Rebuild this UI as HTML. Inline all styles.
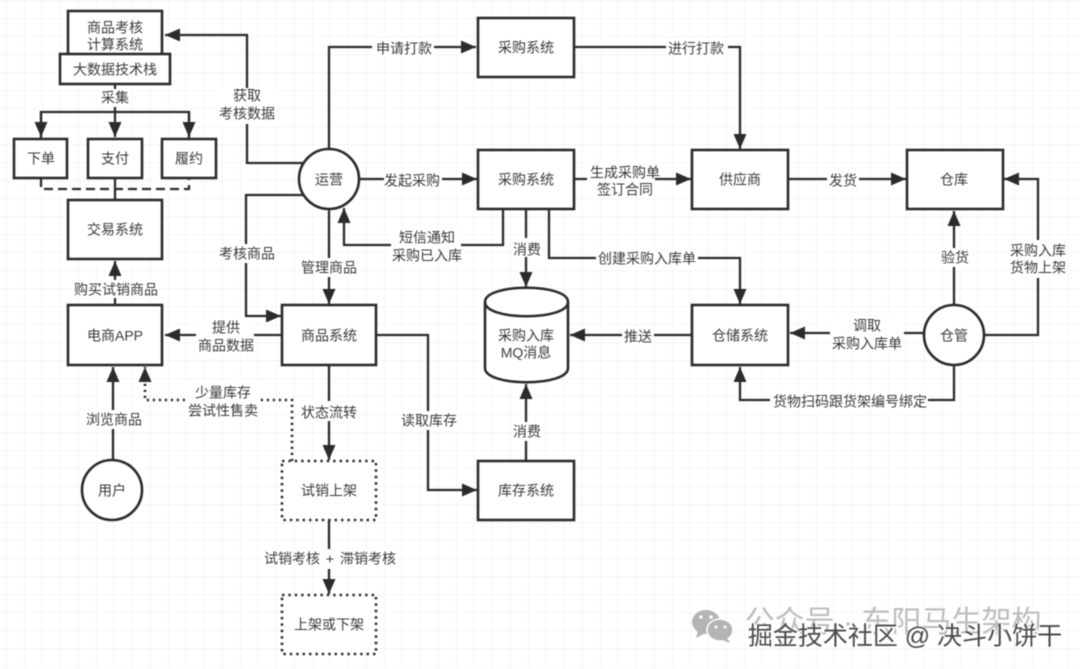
<!DOCTYPE html>
<html><head><meta charset="utf-8">
<style>
html,body{margin:0;padding:0;background:#fff;width:1080px;height:669px;overflow:hidden}
svg{display:block;filter:blur(.5px)}
text{font-family:"Liberation Sans","Noto Sans CJK SC",sans-serif;font-size:14px;fill:#3a3a3a;text-anchor:middle;dominant-baseline:central;transform:translateY(.7px)}
.b{fill:#fff;stroke:#2b2b2b;stroke-width:2.6}
.d{fill:#fff;stroke:#2b2b2b;stroke-width:2.6;stroke-dasharray:2.4 4}
.l{fill:none;stroke:#2b2b2b;stroke-width:2.3}
.a{fill:#2b2b2b}
.w{fill:#fff}
</style></head><body>
<svg width="1080" height="669" viewBox="0 0 1080 669" xmlns="http://www.w3.org/2000/svg">
<defs>
<pattern id="g" width="18" height="18" patternUnits="userSpaceOnUse" x="6" y="0.5"><path d="M18 0H0V18" fill="none" stroke="#eeeeee" stroke-width="1"/></pattern>
<pattern id="G" width="72" height="72" patternUnits="userSpaceOnUse" x="6" y="0.5"><path d="M72 0H0V72" fill="none" stroke="#e6e6e6" stroke-width="1"/></pattern>
<marker id="m" markerUnits="userSpaceOnUse" markerWidth="16" markerHeight="14" refX="15" refY="6.5" orient="auto"><path d="M0 0L15 6.5L0 13Z" class="a"/></marker>
</defs>
<rect width="1080" height="669" fill="#fff"/>
<rect width="1080" height="669" fill="url(#g)"/>
<rect width="1080" height="669" fill="url(#G)"/>

<!-- connectors -->
<g class="l">
<path class="l" d="M304 163H247V35H165" marker-end="url(#m)"/>
<path class="l" d="M329 150V47H476" marker-end="url(#m)"/>
<path class="l" d="M574 47H740V149" marker-end="url(#m)"/>
<path class="l" d="M359 179H477" marker-end="url(#m)"/>
<path class="l" d="M574 179H691" marker-end="url(#m)"/>
<path class="l" d="M788 179H906" marker-end="url(#m)"/>
<path class="l" d="M503 209V245H344V208" marker-end="url(#m)"/>
<path class="l" d="M526 209V287" marker-end="url(#m)"/>
<path class="l" d="M549 209V258H740V304" marker-end="url(#m)"/>
<path class="l" d="M692 335H570" marker-end="url(#m)"/>
<path class="l" d="M925 333H790" marker-end="url(#m)"/>
<path class="l" d="M954 305V211" marker-end="url(#m)"/>
<path class="l" d="M984 335H1038V179H1004" marker-end="url(#m)"/>
<path class="l" d="M954 365V400H740V367" marker-end="url(#m)"/>
<path class="l" d="M526 461V384" marker-end="url(#m)"/>
<path class="l" d="M376 335H428V490H477" marker-end="url(#m)"/>
<path class="l" d="M282 335H165" marker-end="url(#m)"/>
<path class="l" d="M304 195H246V316H281" marker-end="url(#m)"/>
<path class="l" d="M329 209V304" marker-end="url(#m)"/>
<path class="l" d="M329 365V460" marker-end="url(#m)"/>
<path class="l" d="M329 520V594" marker-end="url(#m)"/>
<path class="l" d="M113 461V367" marker-end="url(#m)"/>
<path class="l" d="M115 305V261" marker-end="url(#m)"/>
<path class="l" d="M292 461V400H145V367" stroke-dasharray="2.2 3.8" style="stroke-width:2.6" marker-end="url(#m)"/>
<path class="l" d="M115 84V137" marker-end="url(#m)"/>
<path class="l" d="M41 138V112H189V138"/>
<path class="l" d="M41 112V137" marker-end="url(#m)"/>
<path class="l" d="M189 112V137" marker-end="url(#m)"/>
<path class="l" d="M115 178V200"/>
<path class="l" d="M41 178V189H189V178" stroke-dasharray="9 5"/>
</g>

<!-- label backgrounds -->
<rect class="w" x="100" y="89" width="32" height="18"/>
<rect class="w" x="217" y="88" width="60" height="36"/>
<rect class="w" x="217" y="244" width="60" height="19"/>
<rect class="w" x="300" y="258" width="60" height="19"/>
<rect class="w" x="372" y="38" width="62" height="19"/>
<rect class="w" x="666" y="38" width="62" height="19"/>
<rect class="w" x="384" y="170" width="58" height="19"/>
<rect class="w" x="587" y="162" width="68" height="36"/>
<rect class="w" x="827" y="170" width="32" height="19"/>
<rect class="w" x="391" y="228" width="70" height="36"/>
<rect class="w" x="512" y="238" width="30" height="19"/>
<rect class="w" x="596" y="249" width="102" height="19"/>
<rect class="w" x="622" y="326" width="32" height="19"/>
<rect class="w" x="830" y="316" width="74" height="36"/>
<rect class="w" x="939" y="248" width="30" height="19"/>
<rect class="w" x="1008" y="240" width="60" height="38"/>
<rect class="w" x="770" y="391" width="158" height="19"/>
<rect class="w" x="512" y="422" width="30" height="19"/>
<rect class="w" x="399" y="411" width="60" height="19"/>
<rect class="w" x="196" y="318" width="58" height="36"/>
<rect class="w" x="72" y="280" width="88" height="18"/>
<rect class="w" x="84" y="410" width="60" height="19"/>
<rect class="w" x="186" y="382" width="74" height="38"/>
<rect class="w" x="301" y="401" width="58" height="20"/>
<rect class="w" x="264" y="549" width="134" height="20"/>

<!-- nodes -->
<rect class="b" x="68" y="11" width="94" height="44"/>
<rect class="b" x="60" y="54" width="110" height="30"/>
<rect class="b" x="14" y="139" width="53" height="39"/>
<rect class="b" x="88" y="139" width="54" height="39"/>
<rect class="b" x="162" y="139" width="54" height="39"/>
<rect class="b" x="68" y="200" width="94" height="59"/>
<rect class="b" x="68" y="305" width="94" height="60"/>
<rect class="b" x="282" y="305" width="94" height="60"/>
<rect class="d" x="282" y="461" width="94" height="59"/>
<rect class="d" x="282" y="595" width="94" height="59"/>
<rect class="b" x="478" y="18" width="96" height="59"/>
<rect class="b" x="478" y="150" width="96" height="59"/>
<rect class="b" x="692" y="150" width="96" height="59"/>
<rect class="b" x="907" y="150" width="96" height="59"/>
<rect class="b" x="692" y="305" width="96" height="60"/>
<rect class="b" x="478" y="461" width="96" height="59"/>
<circle class="b" cx="329" cy="179" r="30"/>
<circle class="b" cx="112" cy="490" r="30"/>
<circle class="b" cx="954" cy="335" r="30"/>
<path class="b" d="M485 302C485 283 568 283 568 302V368C568 387 485 387 485 368Z"/>
<path class="l" d="M485 302C485 321 568 321 568 302" style="stroke-width:2.6"/>

<!-- node text -->
<text x="115" y="27">商品考核</text>
<text x="115" y="44">计算系统</text>
<text x="115" y="69">大数据技术栈</text>
<text x="41" y="158">下单</text>
<text x="115" y="158">支付</text>
<text x="189" y="158">履约</text>
<text x="115" y="229">交易系统</text>
<text x="115" y="335">电商APP</text>
<text x="329" y="335">商品系统</text>
<text x="329" y="490">试销上架</text>
<text x="329" y="624">上架或下架</text>
<text x="526" y="47">采购系统</text>
<text x="526" y="179">采购系统</text>
<text x="740" y="179">供应商</text>
<text x="954" y="179">仓库</text>
<text x="740" y="335">仓储系统</text>
<text x="526" y="490">库存系统</text>
<text x="329" y="179">运营</text>
<text x="112" y="490">用户</text>
<text x="954" y="335">仓管</text>
<text x="526" y="335">采购入库</text>
<text x="526" y="352">MQ消息</text>

<!-- edge labels -->
<text x="115" y="97">采集</text>
<text x="247" y="95">获取</text>
<text x="247" y="113">考核数据</text>
<text x="247" y="253">考核商品</text>
<text x="329" y="267">管理商品</text>
<text x="404" y="48">申请打款</text>
<text x="696" y="48">进行打款</text>
<text x="412" y="180">发起采购</text>
<text x="625" y="172">生成采购单</text>
<text x="625" y="189">签订合同</text>
<text x="843" y="180">发货</text>
<text x="427" y="237">短信通知</text>
<text x="427" y="255">采购已入库</text>
<text x="527" y="249">消费</text>
<text x="647" y="258">创建采购入库单</text>
<text x="638" y="336">推送</text>
<text x="867" y="325">调取</text>
<text x="867" y="343">采购入库单</text>
<text x="955" y="257">验货</text>
<text x="1038" y="250">采购入库</text>
<text x="1038" y="267">货物上架</text>
<text x="850" y="401">货物扫码跟货架编号绑定</text>
<text x="527" y="431">消费</text>
<text x="429" y="420">读取库存</text>
<text x="226" y="327">提供</text>
<text x="226" y="345">商品数据</text>
<text x="116" y="289">购买试销商品</text>
<text x="114" y="419">浏览商品</text>
<text x="223" y="392">少量库存</text>
<text x="223" y="410">尝试性售卖</text>
<text x="329" y="412">状态流转</text>
<text x="330" y="558" style="word-spacing:2px">试销考核 + 滞销考核</text>

<!-- watermark -->
<g fill="#b4b4b4">
<ellipse cx="706" cy="622" rx="14" ry="12"/>
<path d="M698 631l-2 7 8-4z"/>
<ellipse cx="720" cy="630" rx="13" ry="11" stroke="#fff" stroke-width="1.5"/>
<path d="M727 638l3 5-8-3z"/>
<circle cx="701" cy="617" r="1.8" fill="#fff"/><circle cx="711" cy="617" r="1.8" fill="#fff"/>
<circle cx="716" cy="627" r="1.5" fill="#fff"/><circle cx="725" cy="627" r="1.5" fill="#fff"/>
</g>
<text x="893" y="622" style="font-size:30px;fill:#bdbdbd">公众号 · 东阳马生架构</text>
<text x="906.5" y="637" style="font-size:25px;fill:#fff;stroke:#fff;stroke-width:1.4">掘金技术社区 @ 决斗小饼干</text>
<text x="905" y="636" style="font-size:25px;fill:#4a4a4a">掘金技术社区 @ 决斗小饼干</text>
</svg>
</body></html>
